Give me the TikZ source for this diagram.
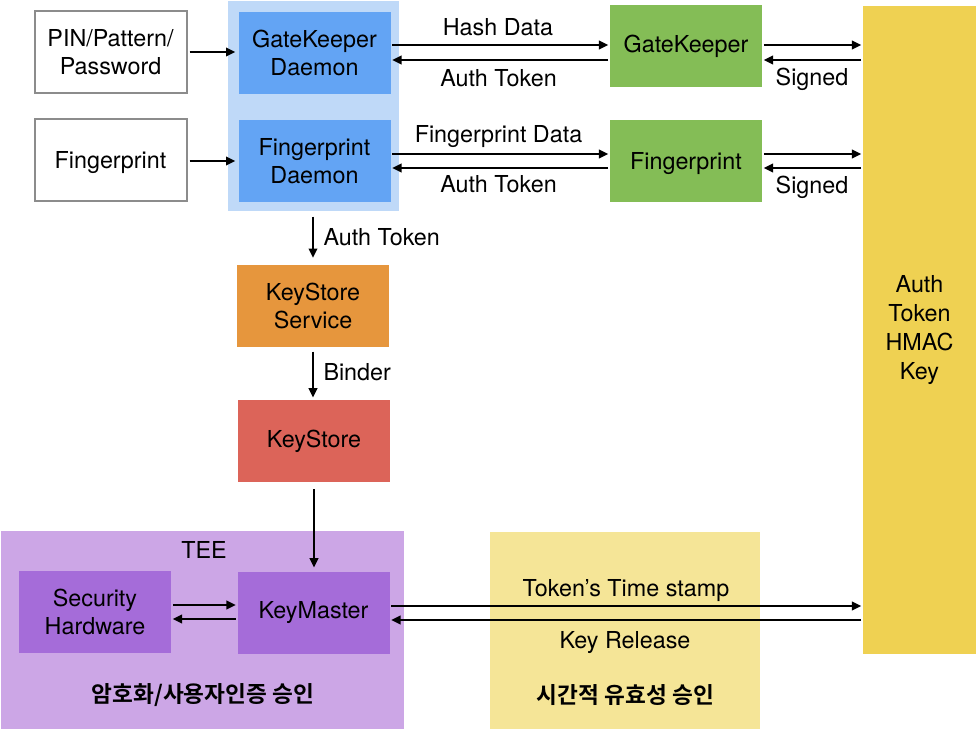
\documentclass[tikz,border=0pt]{standalone}
\usepackage{fontspec}
\setmainfont{TeX Gyre Heros}
\newfontfamily\krfont{Noto Sans CJK KR Bold}
\usetikzlibrary{arrows.meta}

\definecolor{boxgray}{HTML}{8C8C8C}
\definecolor{dmnbg}{HTML}{BFD9F8}
\definecolor{dmnblue}{HTML}{63A4F4}
\definecolor{tagreen}{HTML}{84BD56}
\definecolor{hmacyel}{HTML}{EFD152}
\definecolor{ksorange}{HTML}{E6963D}
\definecolor{ksred}{HTML}{DC6459}
\definecolor{teebg}{HTML}{CCA6E6}
\definecolor{teebox}{HTML}{A56CD9}
\definecolor{tvbg}{HTML}{F5E597}

\newcommand{\lblfont}{\fontsize{17.5pt}{21pt}\selectfont}
\newcommand{\krlblfont}{\krfont\fontsize{17pt}{20pt}\selectfont}

\tikzset{every picture/.style={line width=0.75pt},
  box/.style={minimum width=114pt, minimum height=61.5pt, inner sep=0pt, align=center, font=\lblfont},
  inbox/.style={box, draw=boxgray, line width=1.5pt},
  area/.style={inner sep=0pt},
  lbl/.style={inner sep=0pt, text height=12.6pt, text depth=0pt, font=\lblfont},
  arr/.style={-{Triangle[length=7pt,width=6.5pt]}, line width=1.4pt, shorten <=1pt, shorten >=1pt}}

\begin{document}
\begin{tikzpicture}[x=0.75pt,y=0.75pt,yscale=-1,xscale=1]
\useasboundingbox (0,0) rectangle (977,731);

%Shape: Rectangle [daemon area]
\node[area, fill=dmnbg, minimum width=128.25pt, minimum height=157.5pt] (dmn) at (313.5,106) {};
%Shape: Rectangle [TEE area]
\node[area, fill=teebg, minimum width=302.25pt, minimum height=148.5pt] (tee) at (202.5,630) {};
%Shape: Rectangle [time validity area]
\node[area, fill=tvbg, minimum width=202.5pt, minimum height=147.75pt] (tv) at (625,630.5) {};
%Shape: Rectangle [HMAC key]
\node[area, fill=hmacyel, minimum width=84.75pt, minimum height=486pt, align=center, font=\fontsize{17.5pt}{21.75pt}\selectfont] (hmac) at (919.5,330) {Auth\\Token\\HMAC\\Key};

% Inputs
\node[inbox] (pin) at (110.5,52) {PIN/Pattern/\\Password};
\node[inbox, text depth=0pt] (fpin) at (110.5,160) {Fingerprint};
% Daemons
\node[box, fill=dmnblue] (gkd) at (314.5,53) {GateKeeper\\Daemon};
\node[box, fill=dmnblue] (fpd) at (314.5,161) {Fingerprint\\Daemon};
% Trusted apps
\node[box, fill=tagreen] (gk) at (686,46) {GateKeeper};
\node[box, fill=tagreen, text depth=0pt] (fp) at (686,161) {Fingerprint};
% KeyStore chain
\node[box, fill=ksorange] (kss) at (313,306) {KeyStore\\Service};
\node[box, fill=ksred] (ks) at (314,441) {KeyStore};
% TEE
\node[box, fill=teebox] (sh) at (95,612) {Security\\Hardware};
\node[box, fill=teebox] (km) at (313.5,613) {KeyMaster};

%Straight Lines [inputs]
\draw[arr, shorten <=1.5pt, shorten >=2pt] (pin) -- (pin -| gkd.west);
\draw[arr, shorten <=1.5pt, shorten >=2pt] (fpin.east |- fpd) -- (fpd.west);
%Straight Lines [daemons <-> trusted apps]
\draw[arr] ([yshift=-6pt]gkd.east) -- ([yshift=-6pt]gkd.east -| gk.west);
\draw[arr] ([yshift=5.25pt]gkd.east -| gk.west) -- ([yshift=5.25pt]gkd.east);
\draw[arr] ([yshift=-5.25pt]fpd.east) -- ([yshift=-5.25pt]fpd.east -| fp.west);
\draw[arr] ([yshift=5.25pt]fpd.east -| fp.west) -- ([yshift=5.25pt]fpd.east);
%Straight Lines [trusted apps <-> HMAC key]
\draw[arr] ([yshift=-6pt]gkd.east -| gk.east) -- ([yshift=-6pt]gkd.east -| hmac.west);
\draw[arr] ([yshift=5.25pt]gkd.east -| hmac.west) -- ([yshift=5.25pt]gkd.east -| gk.east);
\draw[arr] ([yshift=-5.25pt]fpd.east -| fp.east) -- ([yshift=-5.25pt]fpd.east -| hmac.west);
\draw[arr] ([yshift=5.25pt]fpd.east -| hmac.west) -- ([yshift=5.25pt]fpd.east -| fp.east);
%Straight Lines [down the stack]
\draw[arr, shorten <=3.75pt, shorten >=5pt] (kss.north |- dmn.south) -- (kss.north);
\draw[arr, shorten <=3pt, shorten >=1.5pt] (kss.south) -- (kss.south |- ks.north);
\draw[arr, shorten <=5pt, shorten >=3pt] (ks.south) -- (ks.south |- km.north);
%Straight Lines [TEE]
\draw[arr] ([yshift=-5.25pt]sh.east) -- ([yshift=-5.25pt]sh.east -| km.west);
\draw[arr] ([yshift=5.25pt]sh.east -| km.west) -- ([yshift=5.25pt]sh.east);
%Straight Lines [KeyMaster <-> HMAC key]
\draw[arr] ([yshift=-5.25pt]km.east) -- ([yshift=-5.25pt]km.east -| hmac.west);
\draw[arr] ([yshift=5.25pt]km.east -| hmac.west) -- ([yshift=5.25pt]km.east);

% Text Node
\node[lbl] (hashlbl) at (498,27) {Hash Data};
\node[lbl] (gktoklbl) at (498.5,78) {Auth Token};
\node[lbl] (fpdatlbl) at (498.5,134) {Fingerprint Data};
\node[lbl] (fptoklbl) at (498.5,184) {Auth Token};
\node[lbl] (gksiglbl) at (812,77) {Signed};
\node[lbl] (fpsiglbl) at (812,185) {Signed};
\node[lbl, anchor=west] (toklbl) at (323,237) {Auth Token};
\node[lbl, anchor=west] (binderlbl) at (323,372) {Binder};
\node[lbl] (teelbl) at (204,550) {TEE};
\node[lbl] (tslbl) at (626,588) {Token’s Time stamp};
\node[lbl] (rellbl) at (625,640) {Key Release};
\node[inner sep=0pt, font=\krlblfont] (cryptolbl) at (203,695) {암호화/사용자인증 승인};
\node[inner sep=0pt, font=\krlblfont] (timelbl) at (625.5,695) {시간적 유효성 승인};

\end{tikzpicture}
\end{document}
